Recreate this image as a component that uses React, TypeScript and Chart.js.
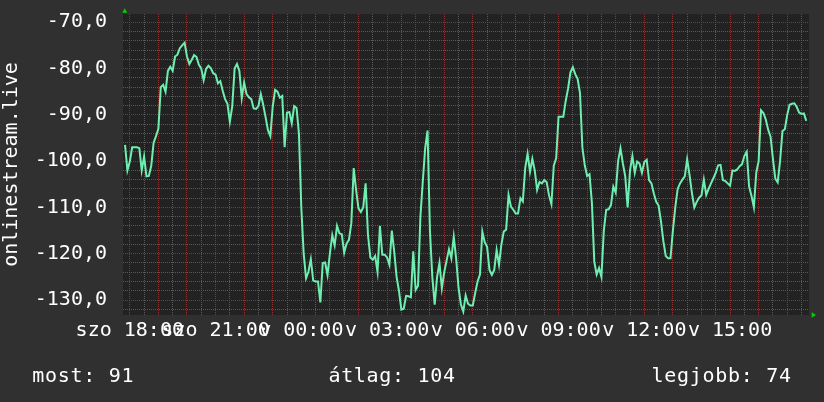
import React, { useEffect, useRef } from 'react';
import { Chart, registerables } from 'chart.js';

Chart.register(...registerables);

// ---- data ----
const seriesStartHour = 17 + 50 / 60; // szo 17:50
const seriesStepHours = 5 / 60; // 5 minutes
const values = [
  -96.5, -102, -100.1, -97, -97, -97, -97.2, -102, -99, -103.3,
  -103.2, -101, -96, -94.6, -93, -84, -83.5, -85, -80.5, -79.6,
  -80.5, -77.4, -77, -75.6, -75, -74.4, -77.4, -79, -78.1, -77.1,
  -77.5, -79.2, -80, -82.5, -80.1, -79.4, -79.9, -81, -81.3, -83.2,
  -82.7, -84.8, -86.6, -87.6, -91.5, -88.2, -80, -79, -80.5, -86.4,
  -83, -85.5, -86.2, -86.6, -88.6, -88.7, -88.1, -85.5, -87.8, -90.5,
  -93.3, -94.6, -88.2, -84.6, -85, -86.3, -85.9, -97, -89.5, -89.4,
  -91.8, -88.1, -88.5, -94, -110, -120, -125.3, -123.9, -121.2, -125.8,
  -126, -126, -130.5, -122, -121.9, -124.6, -120, -116, -118.2, -114,
  -115.6, -115.8, -119.8, -117.8, -117, -113.4, -101.5, -106.2, -110.2, -111,
  -110, -104.8, -116, -120.8, -121.3, -120.5, -123.9, -114, -120.2, -120.2,
  -120.8, -122.4, -115, -119.5, -125, -128, -132.1, -131.9, -129.1, -129.2,
  -129.4, -119.5, -127.8, -126.9, -112, -104.4, -97.2, -93.4, -115, -125,
  -131, -125, -122, -127.5, -124, -121.5, -119, -121, -116.3, -121,
  -127.3, -131, -132.5, -129, -130.8, -131.2, -131.2, -128.5, -126, -124.5,
  -115.2, -117.5, -118.5, -123.5, -124.6, -123.5, -119.2, -122.4, -118, -115.2,
  -114.8, -107.3, -109.8, -110.5, -111.3, -111.3, -108, -108.7, -101.5, -98.4,
  -102.3, -99.5, -102, -106.2, -104.5, -104.8, -104.1, -104.5, -107.4, -109.3,
  -101, -99.4, -90.4, -90.4, -90.4, -87, -84.3, -80.8, -79.7, -81.2,
  -82.2, -85.3, -97, -100.9, -103.2, -102.8, -109, -121.7, -124.5, -123.1,
  -125, -115, -110.5, -110.4, -109.5, -105.5, -106.8, -100, -97.2, -100.5,
  -103.3, -110, -102, -98.9, -102.5, -100.1, -100.5, -102.5, -100.2, -99.7,
  -104.1, -104.8, -107, -108.8, -109.6, -113, -117.3, -120.5, -121, -121,
  -115, -110, -106, -104.8, -104, -103.3, -99.6, -103, -106.9, -110,
  -108.8, -107.9, -107.4, -104, -107.3, -106, -104.8, -103.7, -102.5, -100.9,
  -100.8, -104.1, -104.3, -104.8, -105.3, -102, -102.1, -101.8, -101.1, -100.7,
  -98.9, -98, -105.5, -107.5, -110, -102.5, -100, -89, -89.6, -91,
  -93.2, -94.7, -99.5, -103.8, -104.6, -100, -93.5, -93.1, -90, -87.8,
  -87.6, -87.5, -88.3, -89.5, -89.8, -89.7, -91.3,
];

const xRange = [17.762, 41.762]; // hours since szo 00:00
const yRange = [-133.24, -68.21];
const xMinorStep = 0.5;
const xLabelHours = [18, 21, 24, 27, 30, 33, 36, 39];
const xLabels = ['szo 18:00', 'szo 21:00', 'v 00:00', 'v 03:00', 'v 06:00', 'v 09:00', 'v 12:00', 'v 15:00'];
const yMinorStep = 2;
const yMajorStep = 10;
const yAxisTitle = 'onlinestream.live';
const legendLabels = ['most', 'átlag', 'legjobb'];
const legendValues = [91, 104, 74];

// ---- styles ----
const OUTER_BG = '#303030';
const PLOT_BG = '#222222';
const LINE = 'rgb(110, 238, 176)';
const MAJOR = 'rgba(150, 55, 55, 0.9)';
const MINOR = 'rgba(95, 95, 95, 0.9)';
const FONT = "'DejaVu Sans Mono', monospace";

const decorPlugin = {
  id: 'decor',
  beforeDraw(chart: any) {
    const { ctx, chartArea: a } = chart;
    ctx.save();
    ctx.fillStyle = OUTER_BG;
    ctx.fillRect(0, 0, chart.width, chart.height);
    ctx.fillStyle = PLOT_BG;
    ctx.fillRect(a.left, a.top, a.right - a.left, a.bottom - a.top);
    ctx.restore();
  },
  afterDraw(chart: any) {
    const { ctx, chartArea: a } = chart;
    ctx.save();
    ctx.fillStyle = '#00d000';
    ctx.beginPath();
    ctx.moveTo(a.left + 1.8, a.top - 5.7);
    ctx.lineTo(a.left - 0.7, a.top - 1.3);
    ctx.lineTo(a.left + 4.3, a.top - 1.3);
    ctx.closePath();
    ctx.fill();
    ctx.beginPath();
    ctx.moveTo(a.right + 7, a.bottom);
    ctx.lineTo(a.right + 2.7, a.bottom - 2.7);
    ctx.lineTo(a.right + 2.7, a.bottom + 2.7);
    ctx.closePath();
    ctx.fill();
    ctx.restore();
  },
};

export default function App() {
  const ref = useRef<HTMLCanvasElement | null>(null);

  useEffect(() => {
    if (!ref.current) return;
    const data = values.map((v, i) => ({ x: seriesStartHour + i * seriesStepHours, y: v }));
    const chart = new Chart(ref.current, {
      type: 'line',
      data: {
        datasets: [
          {
            data,
            borderColor: LINE,
            borderWidth: 2,
            pointRadius: 0,
            tension: 0,
            fill: false,
          },
        ],
      },
      options: {
        animation: false,
        responsive: false,
        devicePixelRatio: 1,
        layout: { padding: { top: 14, right: 15, left: 0, bottom: 0 } },
        plugins: { legend: { display: false }, tooltip: { enabled: false } },
        scales: {
          x: {
            type: 'linear',
            min: xRange[0],
            max: xRange[1],
            afterBuildTicks: (scale: any) => {
              const ticks = [];
              for (let h = Math.ceil(xRange[0] / xMinorStep) * xMinorStep; h <= xRange[1]; h += xMinorStep) {
                ticks.push({ value: h });
              }
              scale.ticks = ticks;
            },
            afterFit: (scale: any) => {
              scale.height = 87;
              scale.paddingLeft = 0;
              scale.paddingRight = 0;
            },
            grid: {
              drawTicks: false,
              color: (c: any) => (c.tick && Number.isInteger(c.tick.value) ? MAJOR : MINOR),
              lineWidth: 1,
            },
            border: { display: false, dash: [1, 1] },
            ticks: {
              autoSkip: false,
              maxRotation: 0,
              minRotation: 0,
              padding: 4,
              color: '#ffffff',
              font: { family: FONT, size: 20 },
              callback: (v: any) => {
                const idx = xLabelHours.indexOf(Number(v));
                return idx >= 0 ? xLabels[idx] : '';
              },
            },
          },
          y: {
            type: 'linear',
            min: yRange[0],
            max: yRange[1],
            afterBuildTicks: (scale: any) => {
              const ticks = [];
              for (let v = Math.ceil(yRange[0] / yMinorStep) * yMinorStep; v <= yRange[1]; v += yMinorStep) {
                ticks.push({ value: v });
              }
              scale.ticks = ticks;
            },
            afterFit: (scale: any) => {
              scale.width = 123;
              scale.paddingTop = 0;
              scale.paddingBottom = 0;
            },
            grid: {
              drawTicks: false,
              color: (c: any) => (c.tick && c.tick.value % yMajorStep === 0 ? MAJOR : MINOR),
              lineWidth: 1,
            },
            border: { display: false, dash: [1, 1] },
            title: {
              display: true,
              text: yAxisTitle,
              color: '#ffffff',
              font: { family: FONT, size: 20, lineHeight: 1.15 },
              padding: 0,
            },
            ticks: {
              autoSkip: false,
              padding: 16,
              color: '#ffffff',
              font: { family: FONT, size: 20 },
              callback: (v: any) => {
                const n = Number(v);
                return n % yMajorStep === 0 ? n.toFixed(1).replace('.', ',') : '';
              },
            },
          },
        },
      },
      plugins: [decorPlugin],
    } as any);
    return () => chart.destroy();
  }, []);

  const legendStyle: React.CSSProperties = {
    position: 'absolute',
    top: 365,
    fontFamily: FONT,
    fontSize: 20,
    lineHeight: '20px',
    letterSpacing: '0.7px',
    color: '#ffffff',
    whiteSpace: 'pre',
  };
  const legendLefts = [32.3, 328.4, 651.6];

  return (
    <div style={{ position: 'fixed', left: 0, top: 0, width: 824, height: 402, background: OUTER_BG, overflow: 'hidden' }}>
      <canvas ref={ref} width={824} height={402} style={{ width: 824, height: 402, display: 'block' }} />
      {legendLabels.map((l, i) => (
        <span key={l} style={{ ...legendStyle, left: legendLefts[i] }}>
          {`${l}: ${legendValues[i]}`}
        </span>
      ))}
    </div>
  );
}
